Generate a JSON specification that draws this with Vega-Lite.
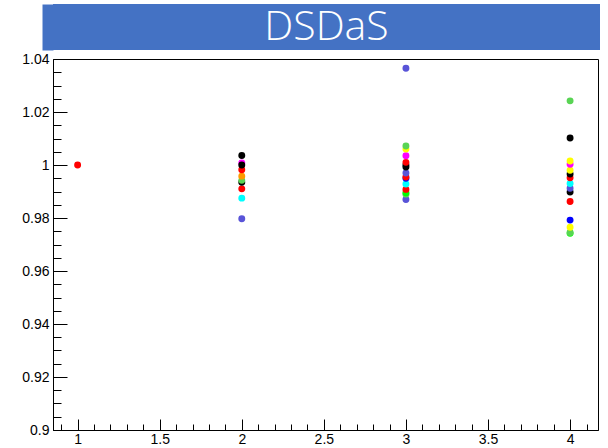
{
  "$schema": "https://vega.github.io/schema/vega-lite/v6.json",
  "padding": {"left": 21, "top": 4, "right": 0, "bottom": 0},
  "spacing": 1,
  "background": "white",
  "config": {
    "font": "Liberation Sans",
    "axis": {"labelFont": "Liberation Sans", "labelFontSize": 14, "labelColor": "black", "grid": false, "domainColor": "black", "tickColor": "black", "title": null}
  },
  "vconcat": [
    {
      "width": 547,
      "height": 46,
      "view": {"fill": "#4472C4", "stroke": null},
      "data": {"values": [{"label": "DSDaS"}]},
      "mark": {"type": "text", "font": "Open Sans", "fontSize": 41, "fontWeight": 300, "color": "white", "baseline": "middle", "align": "center", "dy": 1},
      "encoding": {
        "text": {"field": "label"},
        "y": {"field": "label", "type": "nominal", "axis": {"labels": false, "ticks": false, "domain": true, "domainColor": "#4472C4", "domainWidth": 11, "offset": 5.5}}
      }
    },
    {
      "width": 545,
      "height": 371,
      "view": {"stroke": "black", "strokeWidth": 1},
      "data": {"values": [
        {"x": 1, "y": 1.0, "g": "B"},
        {"x": 2, "y": 0.9797, "g": "I"},
        {"x": 2, "y": 0.9875, "g": "G"},
        {"x": 2, "y": 0.991, "g": "B"},
        {"x": 2, "y": 0.9935, "g": "A"},
        {"x": 2, "y": 0.9942, "g": "H"},
        {"x": 2, "y": 0.9958, "g": "J"},
        {"x": 2, "y": 0.9982, "g": "B"},
        {"x": 2, "y": 1.0008, "g": "F"},
        {"x": 2, "y": 1.0, "g": "A"},
        {"x": 2, "y": 1.0036, "g": "A"},
        {"x": 3, "y": 0.987, "g": "I"},
        {"x": 3, "y": 0.989, "g": "H"},
        {"x": 3, "y": 0.9895, "g": "C"},
        {"x": 3, "y": 0.9908, "g": "B"},
        {"x": 3, "y": 0.9928, "g": "G"},
        {"x": 3, "y": 0.995, "g": "D"},
        {"x": 3, "y": 0.9955, "g": "B"},
        {"x": 3, "y": 0.997, "g": "I"},
        {"x": 3, "y": 0.9992, "g": "A"},
        {"x": 3, "y": 1.0, "g": "A"},
        {"x": 3, "y": 1.001, "g": "B"},
        {"x": 3, "y": 1.0035, "g": "F"},
        {"x": 3, "y": 1.006, "g": "E"},
        {"x": 3, "y": 1.0072, "g": "H"},
        {"x": 3, "y": 1.0365, "g": "I"},
        {"x": 4, "y": 0.9742, "g": "C"},
        {"x": 4, "y": 0.9745, "g": "H"},
        {"x": 4, "y": 0.9765, "g": "E"},
        {"x": 4, "y": 0.9792, "g": "D"},
        {"x": 4, "y": 0.9862, "g": "B"},
        {"x": 4, "y": 0.9898, "g": "A"},
        {"x": 4, "y": 0.9912, "g": "I"},
        {"x": 4, "y": 0.993, "g": "G"},
        {"x": 4, "y": 0.9952, "g": "B"},
        {"x": 4, "y": 0.9966, "g": "A"},
        {"x": 4, "y": 0.998, "g": "E"},
        {"x": 4, "y": 1.0003, "g": "F"},
        {"x": 4, "y": 1.0015, "g": "E"},
        {"x": 4, "y": 1.0102, "g": "A"},
        {"x": 4, "y": 1.0242, "g": "H"}
      ]},
      "layer": [
        {
          "mark": {"type": "point", "opacity": 0},
          "encoding": {
            "x": {"field": "x", "type": "quantitative", "scale": {"domain": [0.85, 4.17], "nice": false, "zero": false},
              "axis": {"values": [0.9,1.0,1.1,1.2,1.3,1.4,1.5,1.6,1.7,1.8,1.9,2.0,2.1,2.2,2.3,2.4,2.5,2.6,2.7,2.8,2.9,3.0,3.1,3.2,3.3,3.4,3.5,3.6,3.7,3.8,3.9,4.0,4.1], "labels": false, "domain": false, "tickSize": -6, "orient": "bottom"}},
            "y": {"field": "y", "type": "quantitative", "scale": {"domain": [0.9, 1.04], "nice": false, "zero": false},
              "axis": {"values": [0.905,0.91,0.915,0.92,0.925,0.93,0.935,0.94,0.945,0.95,0.955,0.96,0.965,0.97,0.975,0.98,0.985,0.99,0.995,1.0,1.005,1.01,1.015,1.02,1.025,1.03,1.035], "labels": false, "domain": false, "tickSize": -8, "orient": "left"}}
          }
        },
        {
          "mark": {"type": "circle", "size": 48, "opacity": 1},
          "encoding": {
            "x": {"field": "x", "type": "quantitative",
              "axis": {"values": [1,1.5,2,2.5,3,3.5,4], "format": "~g", "tickSize": -11, "labelPadding": 13, "orient": "bottom"}},
            "y": {"field": "y", "type": "quantitative",
              "axis": {"values": [0.9,0.92,0.94,0.96,0.98,1.0,1.02,1.04], "format": "~g", "tickSize": -14, "labelPadding": 18, "orient": "left"}},
            "color": {"field": "g", "type": "nominal", "legend": null,
              "scale": {"domain": ["A","B","C","D","E","F","G","H","I","J"],
                        "range": ["#000000","#ff0000","#00ff00","#0000ff","#ffff00","#ff00ff","#00ffff","#59d454","#5954d8","#ff9900"]}}
          }
        }
      ],
      "resolve": {"axis": {"x": "independent", "y": "independent"}}
    }
  ]
}
